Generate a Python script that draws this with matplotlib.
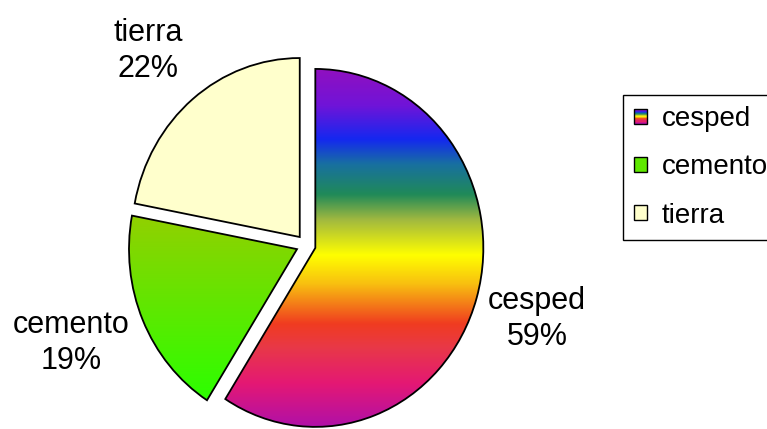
import numpy as np
import matplotlib
matplotlib.use("Agg")
import matplotlib.pyplot as plt
from matplotlib.colors import LinearSegmentedColormap
from matplotlib.patches import Patch, Rectangle

plt.rcParams["font.family"] = ["Liberation Sans", "DejaVu Sans"]

# data
categories = ["cesped", "cemento", "tierra"]
values = [59, 19, 22]

# vertical rainbow used to fill the "cesped" wedge
rainbow_stops = [
    (0.00, "#9010c0"), (0.10, "#7014d8"), (0.195, "#1428f0"),
    (0.265, "#1870a0"), (0.35, "#208a58"), (0.42, "#a0b840"),
    (0.52, "#ffff00"), (0.60, "#f8c010"), (0.712, "#f03c20"),
    (0.78, "#e83848"), (0.88, "#e41874"), (1.00, "#b010a8"),
]
rainbow = LinearSegmentedColormap.from_list("rainbow_fill", rainbow_stops)
green = LinearSegmentedColormap.from_list("green_fill", ["#92d000", "#2cff00"])
tierra_color = "#ffffcc"

W, H = 767, 429
fig = plt.figure(figsize=(W / 100, H / 100), dpi=100)
ax = fig.add_axes([0, 0, 1, 1])
ax.axis("off")

wedges, _ = ax.pie(
    values,
    colors=["none", "none", tierra_color],
    startangle=90,
    counterclock=False,
    explode=[0.058] * len(values),
    radius=1.0,
    wedgeprops=dict(edgecolor="black", linewidth=1.3, zorder=3),
)


def fill_gradient(wedge, cmap):
    ext = wedge.get_path().get_extents()
    grad = np.linspace(0, 1, 256).reshape(-1, 1)
    im = ax.imshow(grad, cmap=cmap, aspect="auto", origin="upper",
                   extent=[ext.x0, ext.x1, ext.y0, ext.y1], zorder=2,
                   interpolation="bilinear")
    im.set_clip_path(wedge)


fill_gradient(wedges[0], rainbow)
fill_gradient(wedges[1], green)

ax.set_xlim(-1.821, 2.744)
ax.set_ylim(-1.028, 1.369)
ax.set_aspect("auto")

# category labels with percentage
label_pos = {"cesped": (537, 319), "cemento": (71, 343), "tierra": (148, 51)}
total = sum(values)
for name, v in zip(categories, values):
    px, py = label_pos[name]
    ax.text(px / W, 1 - py / H, f"{name}\n{100 * v / total:.0f}%",
            transform=ax.transAxes, ha="center", va="center",
            fontsize=22, linespacing=1.3)


class GradientHandler:
    def __init__(self, cmap, n=14):
        self.colors = [cmap(t) for t in np.linspace(0, 1, n)]

    def legend_artist(self, legend, orig_handle, fontsize, handlebox):
        x0, y0 = -handlebox.xdescent, -handlebox.ydescent
        w, h = handlebox.width, handlebox.height
        n = len(self.colors)
        for i, c in enumerate(self.colors):
            strip = Rectangle((x0, y0 + h - (i + 1) * h / n), w, h / n,
                              facecolor=c, edgecolor="none",
                              transform=handlebox.get_transform())
            handlebox.add_artist(strip)
        border = Rectangle((x0, y0), w, h, facecolor="none",
                           edgecolor="black", linewidth=1.0,
                           transform=handlebox.get_transform())
        handlebox.add_artist(border)
        return border


handles = [
    Patch(facecolor="none", edgecolor="black"),
    Patch(facecolor=green(0.5), edgecolor="black", linewidth=1.0),
    Patch(facecolor=tierra_color, edgecolor="black", linewidth=1.0),
]
leg = fig.legend(
    handles, categories,
    handler_map={handles[0]: GradientHandler(rainbow)},
    loc="upper left", bbox_to_anchor=(623 / W, 1 - 95 / H),
    borderaxespad=0, fontsize=20, frameon=True, fancybox=False,
    framealpha=1, edgecolor="black",
    handlelength=0.45, handleheight=0.45, handletextpad=0.55,
    borderpad=0.4, labelspacing=0.8,
)
leg.get_frame().set_linewidth(1.0)

fig.savefig("out.png", dpi=100)
